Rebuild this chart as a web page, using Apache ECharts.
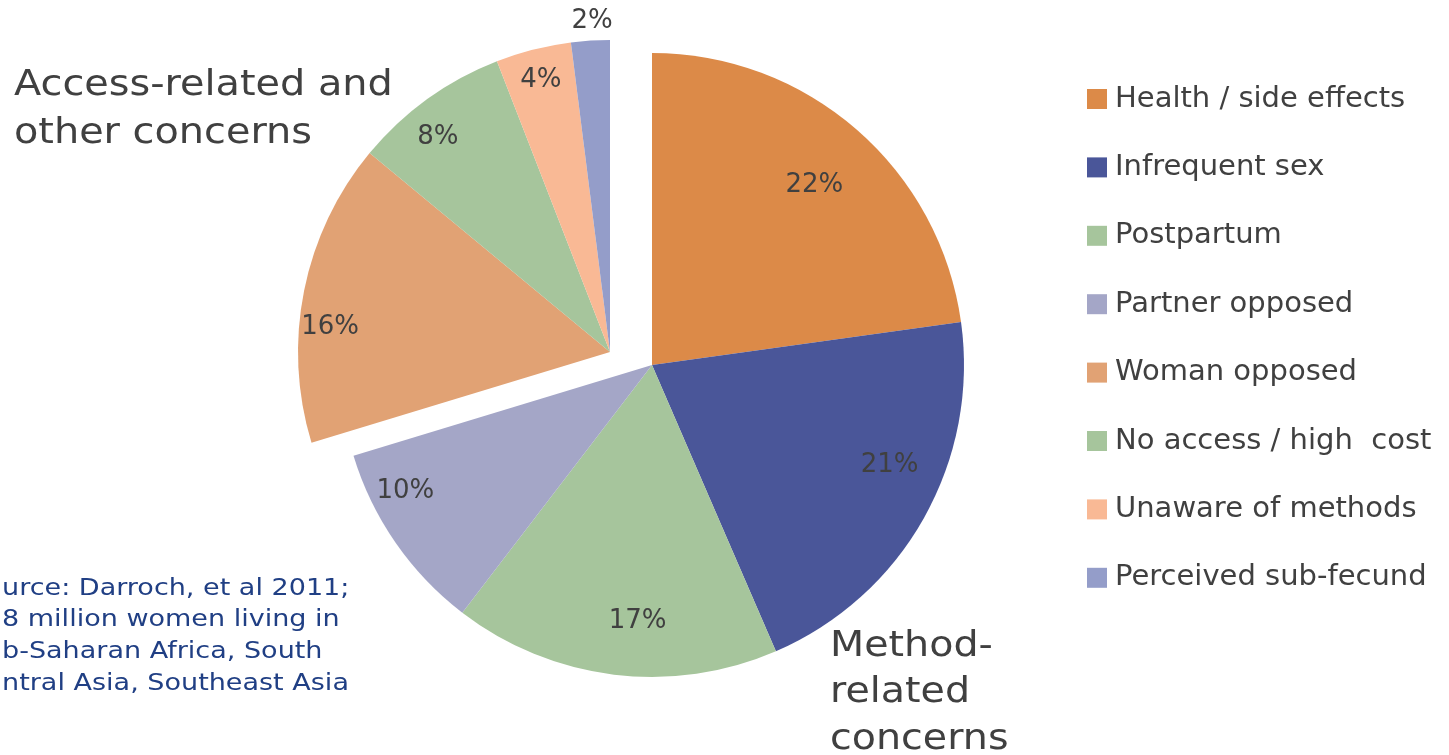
<!DOCTYPE html>
<html>
<head>
<meta charset="utf-8">
<script src="https://cdn.jsdelivr.net/npm/echarts@6/dist/echarts.min.js"></script>
<style>
html,body{margin:0;padding:0;background:#fff;}
#chart{width:1449px;height:755px;}
</style>
</head>
<body>
<div id="chart"></div>
<script>
// ---- data (slice sizes; label texts as printed) ----
const categories = ['Health / side effects','Infrequent sex','Postpartum','Partner opposed','Woman opposed','No access / high  cost','Unaware of methods','Perceived sub-fecund'];
const values = [22.8, 20.7, 16.9, 9.9, 15.7, 8.1, 3.9, 2.0];
const labels = ['22%','21%','17%','10%','16%','8%','4%','2%'];
const explodedGroup = [false, false, false, false, true, true, true, true];
// ---- styles ----
const colors = ['#DC8A48','#4A5699','#A6C59C','#A4A6C7','#E1A274','#A6C59C','#F9B995','#949DC9'];
const labelShift = [[58,-60],[99,22],[5,98],[-116,36],[-124,7],[-79,-86],[-30,-118],[-8,-172]];
const FONT = '"DejaVu Sans", Verdana, sans-serif';
const TXT = '#404040';

function buildData(showExploded) {
  return categories.map((name, i) => {
    const visible = explodedGroup[i] === showExploded;
    return {
      name: visible ? name : ('_hidden' + i),
      value: values[i],
      itemStyle: { color: visible ? colors[i] : 'rgba(0,0,0,0)' },
      label: { show: visible, formatter: labels[i] }
    };
  });
}

function makeLayout() {
  return function (p) {
    const s = labelShift[p.dataIndex];
    const r = p.labelRect;
    return { x: r.x + r.width / 2 + s[0], y: r.y + r.height / 2 + s[1], align: 'center', verticalAlign: 'middle' };
  };
}

const commonSeries = {
  type: 'pie',
  radius: [0, 312],
  startAngle: 90,
  clockwise: true,
  silent: true,
  animation: false,
  avoidLabelOverlap: false,
  label: { position: 'inside', color: TXT, fontSize: 26, fontFamily: FONT },
  labelLine: { show: false },
  emphasis: { disabled: true }
};

const chart = echarts.init(document.getElementById('chart'), null, { renderer: 'canvas' });
chart.setOption({
  backgroundColor: '#ffffff',
  animation: false,
  legend: {
    orient: 'vertical',
    left: 1082,
    top: 79,
    icon: 'rect',
    itemWidth: 20,
    itemHeight: 20,
    itemGap: 38.4,
    selectedMode: false,
    data: categories,
    textStyle: { fontSize: 29, color: TXT, fontFamily: FONT, lineHeight: 30, padding: [0,0,0,3] }
  },
  graphic: [
    { type: 'text', x: 14, y: 62, scaleX: 1.105, style: { text: 'Access-related and\nother concerns', fontSize: 36, lineHeight: 48, fill: TXT, fontFamily: FONT, verticalAlign: 'top' } },
    { type: 'text', x: 830, y: 623, scaleX: 1.1, style: { text: 'Method-\nrelated\nconcerns', fontSize: 36, lineHeight: 46.5, fill: TXT, fontFamily: FONT, verticalAlign: 'top' } },
    { type: 'text', x: 2, y: 573, scaleX: 1.175, style: { text: 'urce: Darroch, et al 2011;\n8 million women living in\nb-Saharan Africa, South\nntral Asia, Southeast Asia', fontSize: 23, lineHeight: 31.6, fill: '#203f84', fontFamily: FONT, verticalAlign: 'top' } }
  ],
  series: [
    Object.assign({}, commonSeries, { name: 'main', center: [652, 365], data: buildData(false), labelLayout: makeLayout() }),
    Object.assign({}, commonSeries, { name: 'exploded', center: [610, 352], data: buildData(true), labelLayout: makeLayout() })
  ]
});
</script>
</body>
</html>
